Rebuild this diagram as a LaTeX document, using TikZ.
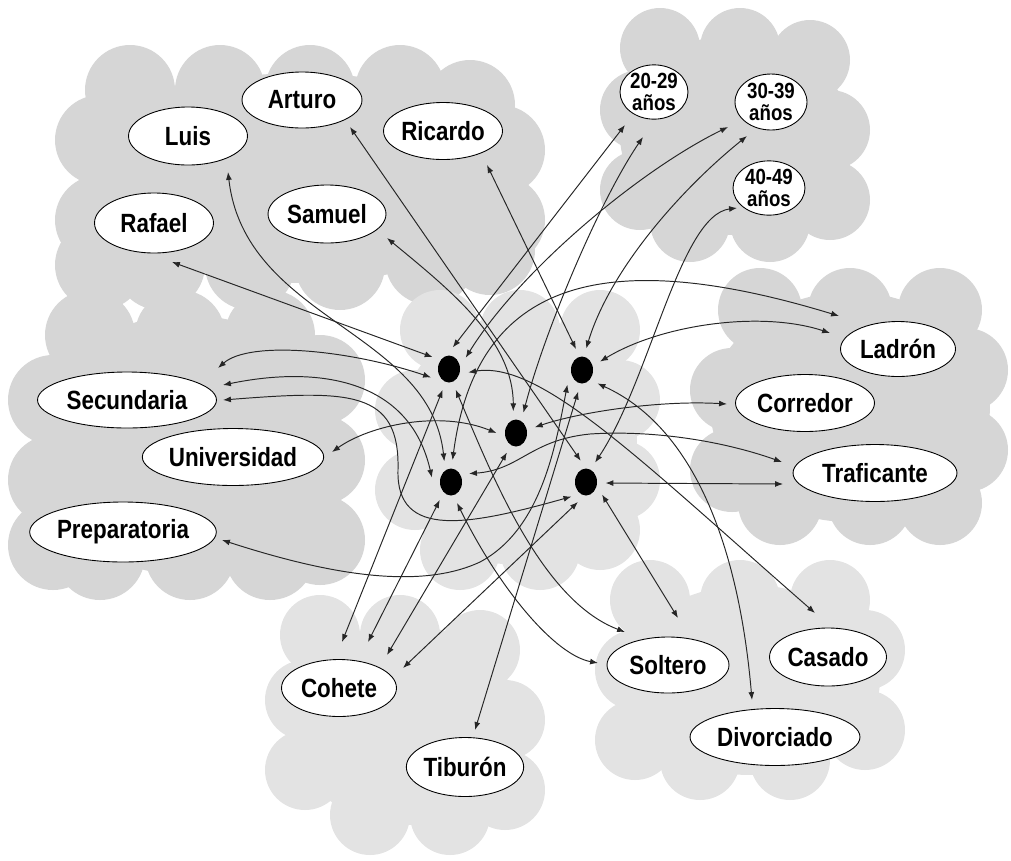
\documentclass[tikz,border=0pt]{standalone}
\usepackage{fontspec}
\newfontfamily\etiq[FakeStretch=0.85]{Liberation Sans}
\usetikzlibrary{shapes.geometric,arrows.meta}
\definecolor{nubeosc}{gray}{0.84}
\definecolor{nubecla}{gray}{0.89}
\begin{document}
\begin{tikzpicture}[x=0.02cm,y=-0.02cm,>={Latex[length=4.5pt,width=3.4pt]},
  campo/.style={ellipse,draw,fill=white,line width=0.5pt,inner sep=0pt,
    font=\etiq\bfseries\fontsize{15}{17}\selectfont},
  edad/.style={campo,align=center,font=\etiq\bfseries\fontsize{12.5}{13}\selectfont},
  punto/.style={ellipse,fill=black,minimum width=0.44cm,minimum height=0.54cm,
    inner sep=0pt,outer sep=0.17cm},
  enlace/.style={<->,line width=0.55pt,black!85}]
\useasboundingbox (0,0) rectangle (1011,860);

% nubes
\fill[nubeosc] (300,178) ellipse [x radius=4.4cm,y radius=2.1cm];
\foreach \cx/\cy/\r in {130/90/45,220/90/45,310/90/45,400/90/45,470/105/45,
  100/140/45,100/220/45,100/265/45,500/150/45,500/220/45,
  160/265/45,250/265/45,340/265/45,430/260/45,490/250/45}
  \fill[nubeosc] (\cx,\cy) circle [radius=\r*0.02cm];
\fill[nubeosc] (735,135) ellipse [x radius=2.3cm,y radius=2.0cm];
\foreach \cx/\cy/\r in {660/48/40,740/48/40,810/60/40,640/110/40,640/190/40,
  830/130/40,830/200/40,690/222/40,770/222/40}
  \fill[nubeosc] (\cx,\cy) circle [radius=\r*0.02cm];
\fill[nubeosc] (187,445) ellipse [x radius=3.1cm,y radius=2.6cm];
\foreach \cx/\cy/\r in {90/335/45,180/335/45,270/335/45,53/400/45,53/480/45,53/545/45,
  320/380/45,320/460/45,320/540/45,100/555/45,190/555/45,270/555/45}
  \fill[nubeosc] (\cx,\cy) circle [radius=\r*0.02cm];
\fill[nubeosc] (850,407) ellipse [x radius=2.8cm,y radius=2.3cm];
\foreach \cx/\cy/\r in {760/310/42,850/310/42,940/310/42,732/390/42,732/470/42,
  966/370/42,966/450/42,780/503/42,870/503/42,940/503/42}
  \fill[nubeosc] (\cx,\cy) circle [radius=\r*0.02cm];
\fill[nubecla] (517,440) ellipse [x radius=2.4cm,y radius=2.5cm];
\foreach \cx/\cy/\r in {440/330/40,520/330/40,600/330/40,415/410/40,415/490/40,
  620/400/40,620/480/40,460/550/40,540/550/40,600/530/40}
  \fill[nubecla] (\cx,\cy) circle [radius=\r*0.02cm];
\fill[nubecla] (405,725) ellipse [x radius=2.3cm,y radius=2.0cm];
\foreach \cx/\cy/\r in {320/635/40,400/635/40,480/650/40,305/700/40,305/770/40,
  505/720/40,505/790/40,370/815/40,450/815/40}
  \fill[nubecla] (\cx,\cy) circle [radius=\r*0.02cm];
\fill[nubecla] (750,680) ellipse [x radius=2.6cm,y radius=1.9cm];
\foreach \cx/\cy/\r in {650/600/40,740/600/40,830/600/40,635/670/40,635/740/40,
  865/650/40,865/730/40,700/760/40,790/760/40}
  \fill[nubecla] (\cx,\cy) circle [radius=\r*0.02cm];

% nombres
\node[campo,minimum width=2.38cm,minimum height=1.16cm] (luis) at (188,136) {Luis};
\node[campo,minimum width=2.40cm,minimum height=1.12cm] (arturo) at (302,100) {Arturo};
\node[campo,minimum width=2.38cm,minimum height=1.14cm] (ricardo) at (443,131) {Ricardo};
\node[campo,minimum width=2.38cm,minimum height=1.20cm] (rafael) at (154,223) {Rafael};
\node[campo,minimum width=2.36cm,minimum height=1.16cm] (samuel) at (327,214) {Samuel};
% edades
\node[edad,minimum width=1.36cm,minimum height=1.02cm] (a20) at (654,92) {20-29\\años};
\node[edad,minimum width=1.44cm,minimum height=1.12cm] (a30) at (771,102) {30-39\\años};
\node[edad,minimum width=1.44cm,minimum height=1.02cm] (a40) at (769,188) {40-49\\años};
% ocupaciones
\node[campo,minimum width=2.30cm,minimum height=1.10cm] (ladron) at (898,349) {Ladrón};
\node[campo,minimum width=2.78cm,minimum height=1.14cm] (corredor) at (805,403) {Corredor};
\node[campo,minimum width=3.28cm,minimum height=1.14cm] (traficante) at (875,473) {Traficante};
% estudios
\node[campo,minimum width=3.58cm,minimum height=1.12cm] (secundaria) at (127,400) {Secundaria};
\node[campo,minimum width=3.58cm,minimum height=1.14cm] (universidad) at (233,457) {Universidad};
\node[campo,minimum width=3.60cm,minimum height=1.20cm] (preparatoria) at (123,532) {Preparatoria};
% apodos
\node[campo,minimum width=2.30cm,minimum height=1.14cm] (cohete) at (339,688) {Cohete};
\node[campo,minimum width=2.32cm,minimum height=1.18cm] (tiburon) at (465,767) {Tiburón};
% estado civil
\node[campo,minimum width=2.44cm,minimum height=1.12cm] (soltero) at (668,665) {Soltero};
\node[campo,minimum width=2.34cm,minimum height=1.16cm] (casado) at (828,657) {Casado};
\node[campo,minimum width=3.40cm,minimum height=1.14cm] (divorciado) at (775,737) {Divorciado};

% personas
\node[punto] (d1) at (449,369) {};
\node[punto] (d2) at (582,370) {};
\node[punto] (d3) at (516,433) {};
\node[punto] (d4) at (451,482) {};
\node[punto] (d5) at (586,482) {};

% nombres
\draw[enlace] ([shift={(18,39)}]rafael.center) -- (d1.144);
\draw[enlace] ([shift={(40,36)}]luis.center) .. controls (245,320) and (430,330) .. (d4.108);
\draw[enlace] ([shift={(48,27)}]arturo.center) -- (d5.104);
\draw[enlace] ([shift={(44,34)}]ricardo.center) -- (d2.106);
\draw[enlace] ([shift={(60,24)}]samuel.center) .. controls (450,290) and (513,340) .. (d3.97);
% edades
\draw[enlace] ([shift={(-29,33)}]a20.center) -- (d1.80);
\draw[enlace] ([shift={(-11,45)}]a20.center) .. controls (600,200) and (545,330) .. (d3.70);
\draw[enlace] ([shift={(-43,25)}]a30.center) .. controls (640,170) and (520,270) .. (d1.34);
\draw[enlace] ([shift={(-24,34)}]a30.center) .. controls (680,190) and (610,270) .. (d2.79);
\draw[enlace] ([shift={(-32,20)}]a40.center) .. controls (680,215) and (650,380) .. (d5.65);
% ocupaciones
\draw[enlace] ([shift={(-59,-33)}]ladron.center) .. controls (590,240) and (475,290) .. (d4.86);
\draw[enlace] ([shift={(-68,-16)}]ladron.center) .. controls (760,310) and (660,325) .. (d2.25);
\draw[enlace] ([shift={(-78,1)}]corredor.center) .. controls (660,400) and (580,412) .. (d3.17);
\draw[enlace] ([shift={(-93,-11)}]traficante.center) .. controls (720,440) and (650,430) .. (590,434)
  .. controls (530,440) and (520,470) .. (d4.25);
\draw[enlace] ([shift={(-92,11)}]traficante.center) -- (d5.-3);
% estudios
\draw[enlace] ([shift={(91,-32)}]secundaria.center) .. controls (250,340) and (350,350) .. (d1.205);
\draw[enlace] ([shift={(96,-15)}]secundaria.center) .. controls (320,365) and (410,380) .. (d4.167);
\draw[enlace] ([shift={(96,0)}]secundaria.center) .. controls (350,390) and (400,390) .. (398,470)
  .. controls (396,540) and (470,525) .. (d5.225);
\draw[enlace] ([shift={(99,-5)}]universidad.center) .. controls (370,425) and (440,410) .. (d3.180);
\draw[enlace] ([shift={(99,8)}]preparatoria.center) .. controls (330,575) and (420,590) .. (480,562)
  .. controls (540,530) and (555,450) .. (d2.225);
% apodos
\draw[enlace] ([shift={(3,-46)}]cohete.center) -- (d1.253);
\draw[enlace] ([shift={(29,-46)}]cohete.center) -- (d4.238);
\draw[enlace] ([shift={(48,-33)}]cohete.center) -- (d3.245);
\draw[enlace] ([shift={(64,-20)}]cohete.center) -- (d5.248);
\draw[enlace] ([shift={(10,-37)}]tiburon.center) -- (d2.260);
% estado civil
\draw[enlace] ([shift={(-43,-33)}]soltero.center) .. controls (540,600) and (490,470) .. (d1.-72);
\draw[enlace] ([shift={(-70,-2)}]soltero.center) .. controls (555,655) and (500,590) .. (d4.-74);
\draw[enlace] ([shift={(10,-47)}]soltero.center) -- (d5.-38);
\draw[enlace] ([shift={(-13,-44)}]casado.center) .. controls (640,460) and (540,360) .. (d1.-10);
\draw[enlace] ([shift={(-23,-37)}]divorciado.center) .. controls (740,560) and (700,430) .. (d2.-41);
\end{tikzpicture}
\end{document}
